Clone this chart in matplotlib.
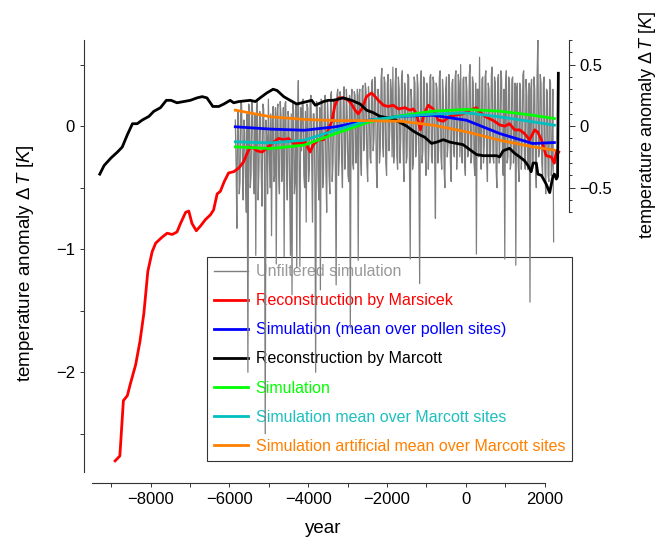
import numpy as np
import matplotlib
matplotlib.use("Agg")
import matplotlib.pyplot as plt
from matplotlib.ticker import FixedLocator

plt.rcParams['font.family'] = ['Liberation Sans', 'DejaVu Sans']
plt.rcParams['mathtext.fontset'] = 'custom'
plt.rcParams['mathtext.rm'] = 'Liberation Sans'
plt.rcParams['mathtext.it'] = 'Liberation Sans:italic'

# unfiltered simulation, one value every 20 years from -5850
sim_start = -5850
sim_step = 20
sim_raw = [
    0.05, -0.30, -0.83, 0.12, 0.10, -0.55, -0.45, 0.20, 0.18, -0.25,
    -0.60, 0.05, -0.05, -0.45, -0.70, 0.10, -2.00, 0.18, 0.15, -0.50,
    -0.40, 0.20, 0.12, -0.35, -0.55, 0.10, -1.05, 0.15, 0.20, -0.60,
    -0.35, 0.12, 0.08, -0.40, -0.65, 0.18, 0.14, -0.30, -2.50, 0.05,
    -0.10, -0.55, 0.22, -0.15, -0.50, 0.10, -0.89, 0.05, 0.16, -0.45,
    -0.40, 0.15, -1.12, 0.10, 0.18, -0.40, -0.55, 0.20, 0.10, -0.45,
    -0.30, 0.15, -1.06, 0.18, 0.20, -0.35, -0.60, 0.12, 0.05, -0.50,
    -1.05, 0.10, -1.37, 0.20, 0.12, -0.55, -0.45, 0.18, -1.15, 0.05,
    0.37, -0.30, -1.14, 0.15, -0.20, 0.20, 0.22, -0.40, -0.50, 0.12,
    -0.78, 0.18, 0.15, -0.45, -0.35, 0.20, 0.25, -0.30, -0.78, 0.10,
    0.10, -0.45, -2.00, 0.20, 0.18, -0.40, -0.60, 0.15, -1.33, 0.22,
    0.20, -0.50, -0.40, 0.18, 0.25, -0.35, -0.70, 0.20, 0.05, -0.40,
    -0.55, 0.25, 0.28, -0.45, -0.30, 0.22, 0.15, -0.35, -1.29, 0.25,
    0.30, -0.40, -0.25, 0.28, 0.22, -0.30, -0.50, 0.20, 0.32, -0.35,
    -0.20, 0.30, 0.10, -0.40, -0.45, 0.25, -1.64, 0.20, 0.30, -0.30,
    -0.35, 0.28, 0.25, -0.30, -0.20, 0.30, -1.09, 0.25, 0.30, -0.25,
    -0.40, 0.30, 0.33, -0.20, -0.15, 0.35, 0.28, -0.30, -0.45, 0.32,
    0.20, -0.25, -0.30, 0.35, 0.38, -0.20, -0.10, 0.40, 0.30, -0.35,
    -0.50, 0.30, 0.25, -0.30, -0.20, 0.38, 0.47, -0.15, -0.25, 0.40,
    0.35, -0.30, -0.40, 0.35, 0.42, -0.20, -0.05, 0.38, 0.30, -0.25,
    0.48, -0.30, -0.20, 0.35, 0.47, -0.25, -0.35, 0.40, 0.30, -0.30,
    -0.10, 0.38, 0.45, -0.20, -0.45, 0.35, 0.25, -0.30, -0.25, 0.42,
    0.40, -0.25, -1.08, 0.30, 0.20, -0.35, -0.30, 0.40, 0.35, -0.25,
    -0.15, 0.42, 0.30, -0.30, -1.28, 0.35, 0.45, -0.30, -0.20, 0.40,
    0.38, -0.20, -0.40, 0.35, 0.28, -0.35, -0.10, 0.40, 0.42, -0.25,
    -0.30, 0.40, 0.35, -0.25, -0.75, 0.35, 0.30, -0.30, -0.20, 0.40,
    0.45, -0.25, -0.35, 0.38, 0.25, -0.35, -0.50, 0.30, 0.40, -0.25,
    -0.15, 0.42, 0.30, -0.30, -0.45, 0.35, 0.38, -0.20, -0.25, 0.40,
    0.45, -0.35, -0.10, 0.42, 0.35, -0.25, 0.50, -0.20, -0.30, 0.38,
    0.40, -0.30, -0.40, 0.40, 0.28, -0.25, -0.20, 0.42, 0.50, -0.30,
    -0.25, 0.40, 0.35, -0.30, -0.40, 0.35, -1.04, 0.30, 0.30, -0.25,
    0.56, -0.20, -0.35, 0.38, 0.40, -0.30, -0.15, 0.40, 0.45, -0.25,
    -0.45, 0.35, 0.30, -0.30, -0.20, 0.42, 0.48, -0.25, -0.30, 0.40,
    0.35, -0.35, -0.50, 0.38, 0.42, -0.30, -0.10, 0.45, 0.38, -0.25,
    -0.40, 0.30, -1.08, 0.35, 0.45, -0.30, -0.25, 0.40, 0.35, -0.35,
    -0.30, 0.38, 0.40, -0.30, -0.20, 0.35, -1.13, 0.30, 0.35, -0.30,
    -0.45, 0.35, 0.30, -0.35, -0.15, 0.42, 0.45, -0.30, -0.35, 0.38,
    0.25, -0.35, -0.25, 0.35, -1.43, 0.30, 0.38, -0.35, -0.30, 0.40,
    0.30, -0.30, -0.50, 0.40, 0.71, -0.25, -0.20, 0.42, 0.35, -0.30,
    -0.40, 0.35, 0.40, -0.35, -0.55, 0.30, 0.28, -0.40, -0.45, 0.38,
    0.35, -0.40, -0.30, 0.30, -0.94,
]
sim_years = sim_start + sim_step * np.arange(len(sim_raw))

marsicek_years = [-8900, -8780, -8690, -8590, -8510, -8380, -8270, -8170, -8070, -7960,
                  -7870, -7700, -7580, -7450, -7330, -7240, -7110, -7030, -6950, -6840,
                  -6730, -6610, -6480, -6400, -6310, -6230, -6130, -6020, -5890, -5760,
                  -5640, -5550, -5470, -5380, -5300, -5170, -5050, -4920, -4750, -4620,
                  -4500, -4370, -4200, -4080, -3950, -3870, -3740, -3610, -3530, -3400,
                  -3320, -3230, -3110, -2980, -2900, -2810, -2730, -2640, -2520, -2390,
                  -2300, -2220, -2090, -1970, -1840, -1710, -1540, -1420, -1330, -1250,
                  -1150, -1060, -950, -830, -700, -570, -400, -240, -70, 100,
                  270, 350, 480, 610, 730, 860, 990, 1110, 1240, 1370,
                  1490, 1620, 1750, 1830, 1920, 2040, 2170, 2250, 2300, 2360]
marsicek = [-2.72, -2.68, -2.23, -2.19, -2.09, -1.94, -1.75, -1.52, -1.18, -1.02,
            -0.95, -0.90, -0.87, -0.88, -0.86, -0.79, -0.70, -0.69, -0.79, -0.85,
            -0.81, -0.76, -0.72, -0.68, -0.55, -0.53, -0.45, -0.38, -0.37, -0.34,
            -0.29, -0.22, -0.17, -0.18, -0.20, -0.21, -0.18, -0.14, -0.10, -0.11,
            -0.10, -0.14, -0.14, -0.13, -0.21, -0.15, -0.11, -0.11, -0.06, 0.04,
            0.17, 0.23, 0.23, 0.21, 0.18, 0.13, 0.10, 0.14, 0.24, 0.27,
            0.24, 0.21, 0.17, 0.16, 0.17, 0.14, 0.15, 0.13, 0.14, 0.10,
            -0.03, 0.10, 0.17, 0.14, 0.05, 0.04, 0.08, 0.09, 0.10, 0.13,
            0.15, 0.12, 0.08, 0.06, 0.04, 0.01, 0.00, 0.02, -0.03, -0.03,
            -0.06, -0.11, -0.03, -0.05, -0.11, -0.24, -0.25, -0.30, -0.20, -0.21]

marcott_years = [-9290, -9180, -9010, -8840, -8720, -8590, -8460, -8340, -8210, -8040,
                 -7920, -7750, -7600, -7480, -7330, -7160, -6990, -6820, -6690, -6570,
                 -6420, -6270, -6140, -5980, -5890, -5760, -5470, -5340, -5220, -5050,
                 -4890, -4790, -4620, -4460, -4290, -4030, -3910, -3820, -3610, -3490,
                 -3360, -3110, -2900, -2680, -2520, -2350, -2180, -2010, -1840, -1670,
                 -1500, -1330, -1170, -1040, -870, -740, -570, -400, -240, -70,
                 100, 270, 440, 610, 780, 860, 950, 1110, 1240, 1370,
                 1490, 1580, 1660, 1710, 1790, 1830, 1920, 2040, 2130, 2210,
                 2250, 2300, 2330, 2350]
marcott = [-0.39, -0.32, -0.26, -0.21, -0.17, -0.07, 0.02, 0.02, 0.05, 0.08,
           0.12, 0.15, 0.21, 0.21, 0.19, 0.20, 0.21, 0.23, 0.24, 0.23,
           0.16, 0.16, 0.18, 0.21, 0.19, 0.20, 0.21, 0.20, 0.23, 0.27,
           0.30, 0.29, 0.24, 0.21, 0.18, 0.20, 0.21, 0.17, 0.20, 0.21,
           0.21, 0.23, 0.21, 0.18, 0.13, 0.11, 0.08, 0.07, 0.06, 0.03,
           0.00, -0.04, -0.07, -0.09, -0.14, -0.13, -0.11, -0.13, -0.14, -0.15,
           -0.19, -0.23, -0.24, -0.24, -0.24, -0.25, -0.20, -0.18, -0.22, -0.25,
           -0.28, -0.32, -0.37, -0.30, -0.30, -0.39, -0.40, -0.47, -0.54, -0.41,
           -0.39, -0.43, -0.41, 0.43]

smooth_years = [-5850, -4950, -4100, -3300, -2450, -1650, -830, 20, 860, 1700, 2250]
sim_pollen = [-0.005, -0.024, -0.033, -0.005, 0.049, 0.081, 0.089, 0.048, -0.06, -0.141, -0.133]
sim_mean = [-0.168, -0.182, -0.154, -0.06, 0.035, 0.085, 0.122, 0.136, 0.122, 0.089, 0.062]
sim_marcott = [-0.127, -0.136, -0.114, -0.033, 0.049, 0.08, 0.098, 0.108, 0.076, 0.035, 0.008]
sim_artificial = [0.13, 0.076, 0.055, 0.045, 0.045, 0.04, 0.008, -0.046, -0.114, -0.168, -0.195]

fig = plt.figure(figsize=(6.63, 5.38), dpi=100)
ax = fig.add_axes([0.1267, 0.1022, 0.7315, 0.8234])

ax.plot(sim_years, sim_raw, color='#7f7f7f', lw=0.9, zorder=2, label='Unfiltered simulation')
ax.plot(marsicek_years, marsicek, color='#ff0000', lw=2, zorder=3, label='Reconstruction by Marsicek')
ax.plot(smooth_years, sim_pollen, color='#0000ff', lw=2, zorder=3, label='Simulation (mean over pollen sites)')
ax.plot(marcott_years, marcott, color='black', lw=2, zorder=3, label='Reconstruction by Marcott')
ax.plot(smooth_years, sim_mean, color='#00ff00', lw=2, zorder=3, label='Simulation')
ax.plot(smooth_years, sim_marcott, color='#00bfbf', lw=2, zorder=3, label='Simulation mean over Marcott sites')
ax.plot(smooth_years, sim_artificial, color='#ff8000', lw=2, zorder=3, label='Simulation artificial mean over Marcott sites')

ax.set_xlim(-9690, 2620)
ax.set_ylim(-2.90, 0.70)

for s in ['top', 'right']:
    ax.spines[s].set_visible(False)
ax.spines['left'].set_bounds(-2.81, 0.70)
ax.spines['bottom'].set_bounds(-9480, 2000)
for s in ['left', 'bottom']:
    ax.spines[s].set_color('#333333')
    ax.spines[s].set_linewidth(0.8)

ax.xaxis.set_major_locator(FixedLocator([-8000, -6000, -4000, -2000, 0, 2000]))
ax.xaxis.set_minor_locator(FixedLocator([-9000, -7000, -5000, -3000, -1000, 1000]))
ax.yaxis.set_major_locator(FixedLocator([-2, -1, 0]))
ax.yaxis.set_minor_locator(FixedLocator([-2.5, -1.5, -0.5, 0.5]))
ax.tick_params(which='both', direction='out', length=3, width=0.7, color='#333333', labelsize=12)

ax.set_xlabel('year', fontsize=13.5)
ax.set_ylabel(r'temperature anomaly $\Delta\,T$ [$K$]', fontsize=13.5)
ax.xaxis.set_label_coords(0.493, -0.083)
ax.yaxis.set_label_coords(-0.099, 0.497)

# right axis, same scale, short spine
ax2 = ax.twinx()
ax2.set_ylim(ax.get_ylim())
for s in ['top', 'left', 'bottom']:
    ax2.spines[s].set_visible(False)
ax2.spines['right'].set_bounds(-0.7, 0.7)
ax2.spines['right'].set_color('#333333')
ax2.spines['right'].set_linewidth(0.8)
ax2.yaxis.set_major_locator(FixedLocator([-0.5, 0, 0.5]))
ax2.yaxis.set_minor_locator(FixedLocator([-0.7, -0.6, -0.4, -0.3, -0.2, -0.1, 0.1, 0.2, 0.3, 0.4, 0.6, 0.7]))
ax2.yaxis.set_major_formatter(plt.FuncFormatter(lambda v, p: '0' if v == 0 else ('%.1f' % v).replace('-', '\u2212')))
ax2.tick_params(which='major', direction='out', length=4, width=0.7, color='#333333', labelsize=12)
ax2.tick_params(which='minor', direction='out', length=2.5, width=0.7, color='#333333')
ax2.set_ylabel(r'temperature anomaly $\Delta\,T$ [$K$]', fontsize=13)
ax2.yaxis.set_label_coords(1.140, 0.808)

leg = ax.legend(loc='upper left', bbox_to_anchor=(0.2536, 0.510), borderaxespad=0,
                fontsize=11.5, frameon=True, fancybox=False, edgecolor='black',
                handlelength=2.1, handletextpad=0.5, labelspacing=0.88, borderpad=0.45)
leg.get_frame().set_linewidth(0.8)
leg.set_zorder(1)
text_colors = ['#999999', '#ff0000', '#0000ff', 'black', '#00ff00', '#1fbfbf', '#ff8000']
for t, c in zip(leg.get_texts(), text_colors):
    t.set_color(c)
for h in leg.legend_handles:
    h.set_linewidth(2)
leg.legend_handles[0].set_linewidth(1)

fig.savefig('out.png', dpi=100)
